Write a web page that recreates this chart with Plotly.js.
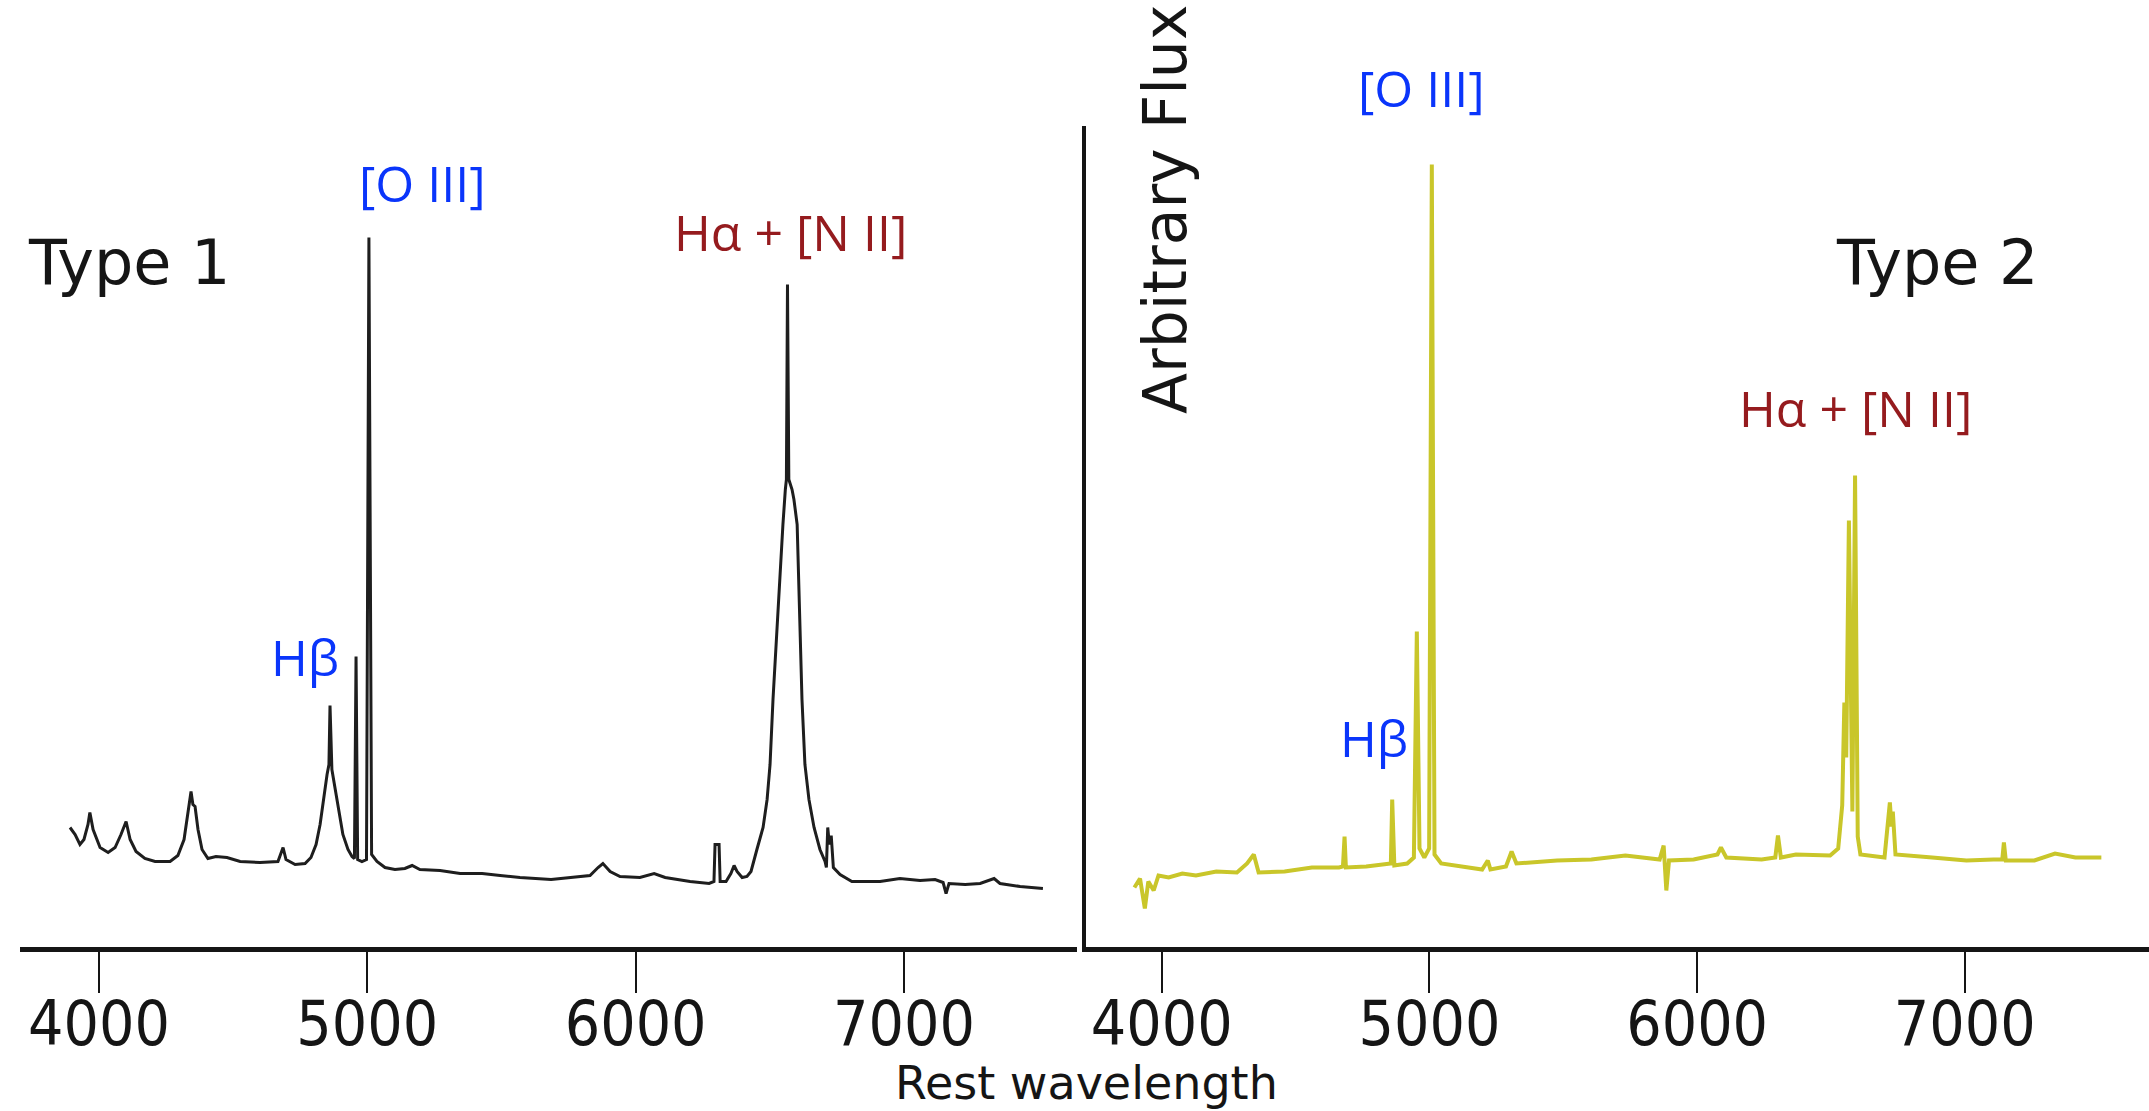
<!DOCTYPE html>
<html>
<head>
<meta charset="utf-8">
<script src="https://cdn.plot.ly/plotly-3.0.1.min.js"></script>
<style>
html,body{margin:0;padding:0;background:#ffffff;}
#chart{width:2149px;height:1111px;}
</style>
</head>
<body>
<div id="chart"></div>
<script>
// ---- Type 1 spectrum (rest wavelength in Angstrom, arbitrary flux) ----
const type1Wavelength = [3892,3911,3929,3944,3959,3966,3978,4004,4034,4060,4082,4101,4116,4138,4171,4209,4265,4294,4317,4332,4343,4350,4358,4369,4384,4406,4436,4477,4526,4600,4667,4686,4697,4731,4768,4790,4809,4824,4839,4850,4857,4861,4868,4880,4895,4909,4928,4943,4952,4958,4964,4980,4997,5006,5016,5036,5066,5103,5140,5167,5196,5271,5346,5428,5495,5569,5685,5774,5830,5860,5878,5905,5942,6016,6069,6110,6203,6274,6292,6296,6311,6315,6337,6355,6367,6378,6397,6415,6430,6452,6475,6490,6501,6512,6525,6538,6549,6558,6562,6566,6571,6583,6590,6602,6614,6620,6631,6646,6665,6687,6706,6711,6716,6722,6729,6737,6762,6806,6911,6985,7060,7116,7146,7157,7168,7228,7284,7336,7358,7433,7518];
const type1Flux = [11.9,11.2,10.2,10.7,12.2,13.4,11.7,9.9,9.4,9.9,11.2,12.5,10.7,9.5,8.8,8.5,8.5,9.1,10.7,13.2,15.5,14.2,14.0,11.7,9.7,8.8,9.0,8.9,8.5,8.4,8.5,9.9,8.7,8.2,8.3,8.9,10.2,12.2,15.2,17.2,18.2,24.1,17.7,15.7,13.2,11.2,9.7,9.0,8.8,29.0,8.7,8.5,8.7,70.9,9.2,8.5,7.9,7.7,7.8,8.1,7.7,7.6,7.3,7.3,7.1,6.9,6.7,6.9,7.1,7.9,8.3,7.5,7.0,6.9,7.3,6.9,6.5,6.3,6.5,10.2,10.2,6.5,6.5,7.3,8.1,7.5,6.9,7.0,7.5,9.7,11.9,14.7,18.2,24.7,30.8,37.7,42.2,45.7,46.7,66.2,46.7,45.7,44.7,42.2,30.8,24.7,18.2,14.7,11.9,9.7,8.5,7.9,11.9,10.2,11.1,7.9,7.2,6.5,6.5,6.8,6.6,6.7,6.4,5.3,6.3,6.2,6.3,6.8,6.3,6.0,5.8];

// ---- Type 2 spectrum ----
const type2Wavelength = [3898,3919,3937,3950,3970,3988,4026,4077,4128,4204,4281,4319,4344,4362,4459,4561,4662,4677,4683,4688,4764,4841,4856,4861,4869,4917,4942,4953,4963,4981,4999,5009,5019,5044,5121,5197,5218,5228,5286,5307,5325,5477,5605,5732,5860,5875,5885,5895,5987,6076,6089,6109,6241,6292,6302,6313,6369,6497,6527,6542,6550,6557,6567,6580,6590,6600,6610,6700,6720,6726,6731,6741,6878,7006,7107,7140,7146,7153,7260,7337,7413,7510];
const type2Flux = [5.9,6.8,3.8,6.5,5.6,7.1,6.9,7.3,7.1,7.5,7.4,8.3,9.2,7.4,7.5,7.9,7.9,8.0,11.0,7.9,8.0,8.3,8.3,14.7,8.1,8.3,8.9,31.5,9.8,8.9,9.8,78.2,9.2,8.3,8.0,7.7,8.6,7.7,8.0,9.5,8.3,8.6,8.7,9.1,8.7,10.1,5.6,8.6,8.7,9.2,9.9,8.9,8.7,8.9,11.1,8.9,9.2,9.1,9.8,14.1,24.4,18.9,42.6,13.5,47.1,11.0,9.2,8.9,14.4,12.0,13.5,9.2,8.9,8.6,8.7,8.7,10.4,8.6,8.6,9.3,8.9,8.9];

// ---- axis ticks ----
const tickValues = [4000, 5000, 6000, 7000];
const tickLabels = ['4000', '5000', '6000', '7000'];

// ---- text ----
const panelNames = ['Type 1', 'Type 2'];
const lineNames = {oiii: '[O III]', hbeta: 'Hβ', halpha: 'Hα + [N II]'};
const xTitle = 'Rest wavelength';
const yTitle = 'Arbitrary Flux';

const W = 2149, H = 1111;
const px = v => v / W;
const py = v => 1 - v / H;

const handFont = 'DejaVu Sans, Liberation Sans, sans-serif';
const digitFont = 'DejaVu Sans Condensed, Liberation Sans Narrow, DejaVu Sans, sans-serif';
const labelFont = 'Open Sans, Noto Sans, sans-serif';
const blue = '#0a35fb';
const red = '#951b1e';
const ink = '#151515';

const traces = [
  {x: type1Wavelength, y: type1Flux, xaxis: 'x', yaxis: 'y', type: 'scatter', mode: 'lines',
   line: {color: '#1e1e1e', width: 3}, hoverinfo: 'skip', showlegend: false},
  {x: type2Wavelength, y: type2Flux, xaxis: 'x2', yaxis: 'y2', type: 'scatter', mode: 'lines',
   line: {color: '#c9c62a', width: 4}, hoverinfo: 'skip', showlegend: false}
];

const yDomain = [py(946.5), py(126)];
const xAxisCommon = {
  showline: true, linewidth: 5, linecolor: ink, mirror: false,
  showgrid: false, zeroline: false,
  ticks: 'outside', ticklen: 41, tickwidth: 2, tickcolor: ink,
  ticklabelstandoff: -22,
  tickmode: 'array', tickvals: tickValues, ticktext: tickLabels,
  tickfont: {family: digitFont, size: 62, color: ink}
};

const ann = (text, x, y, color, size, family, extra) => Object.assign({
  text: text, x: px(x), y: py(y), xref: 'paper', yref: 'paper',
  xanchor: 'center', yanchor: 'middle', showarrow: false,
  font: {family: family, size: size, color: color}
}, extra || {});

const layout = {
  width: W, height: H,
  margin: {l: 0, r: 0, t: 0, b: 0, pad: 0},
  paper_bgcolor: '#ffffff', plot_bgcolor: '#ffffff',
  showlegend: false,
  xaxis: Object.assign({}, xAxisCommon, {domain: [px(20), px(1077)], range: [3705.6, 7645], anchor: 'y'}),
  xaxis2: Object.assign({}, xAxisCommon, {domain: [px(1086), 1], range: [3717.2, 7688], anchor: 'y2'}),
  yaxis: {domain: yDomain, range: [0, 82.05], visible: false, anchor: 'x'},
  yaxis2: {domain: yDomain, range: [0, 82.05], anchor: 'x2',
           showline: true, linewidth: 4, linecolor: ink, showgrid: false, zeroline: false,
           ticks: '', showticklabels: false},
  annotations: [
    ann(panelNames[0], 129, 262, ink, 62, handFont),
    ann(panelNames[1], 1937, 262, ink, 62, handFont),
    ann(lineNames.oiii, 422, 183, blue, 50, labelFont),
    ann(lineNames.halpha, 790, 232, red, 50, labelFont),
    ann(lineNames.hbeta, 305, 657, blue, 50, labelFont),
    ann(lineNames.oiii, 1421.5, 88, blue, 50, labelFont),
    ann(lineNames.hbeta, 1373.5, 738, blue, 50, labelFont),
    ann(lineNames.halpha, 1855, 408, red, 50, labelFont),
    ann(yTitle, 1165, 210, ink, 60, handFont, {textangle: -90}),
    ann(xTitle, 1086, 1083, ink, 46, handFont)
  ]
};

Plotly.newPlot('chart', traces, layout, {displayModeBar: false, staticPlot: true});
</script>
</body>
</html>
